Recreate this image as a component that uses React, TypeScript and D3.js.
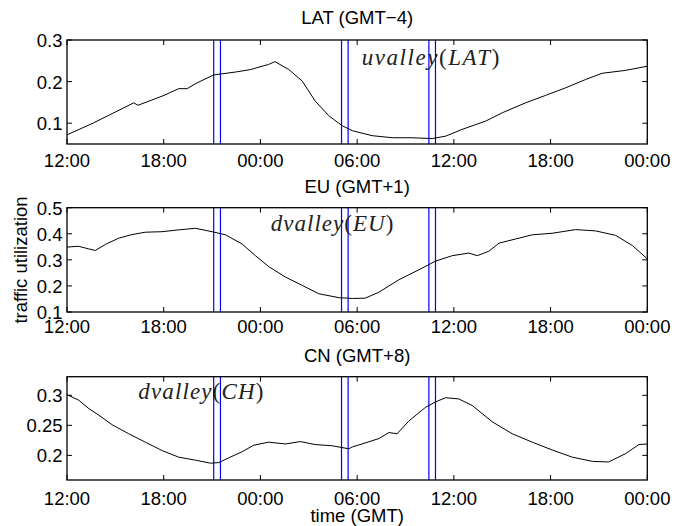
import React, { useRef, useEffect } from 'react';
import * as d3 from 'd3';

// hours after 12:00 GMT of day 1 (0..36)
const tickHours = [0, 6, 12, 18, 24, 30, 36];
const tickLabels = ['12:00', '18:00', '00:00', '06:00', '12:00', '18:00', '00:00'];
const valleyLines = [9.1, 9.52, 17.03, 17.44, 22.45, 22.86];

const latHours = [0, 1.55, 2.8, 4.14, 4.4, 5.9, 6.93, 7.45, 7.97, 9.1, 10.45, 11.4, 12.1, 12.5, 12.9, 13.76, 14.6, 15.4, 16.24, 17.07, 17.7, 18.93, 20.2, 21.4, 22.66, 23.5, 24.5, 25.97, 27.0, 28.45, 29.7, 30.93, 32.17, 33.2, 34.66, 36];
const latValues = [0.072, 0.099, 0.123, 0.149, 0.143, 0.165, 0.183, 0.183, 0.195, 0.216, 0.223, 0.229, 0.237, 0.241, 0.248, 0.229, 0.201, 0.153, 0.118, 0.094, 0.082, 0.07, 0.065, 0.065, 0.063, 0.069, 0.085, 0.105, 0.125, 0.149, 0.167, 0.185, 0.205, 0.22, 0.227, 0.237];

const euHours = [0, 0.72, 1.35, 1.76, 2.38, 3.2, 4.03, 4.86, 5.9, 6.93, 7.97, 9.0, 9.83, 10.86, 11.69, 12.52, 13.55, 14.59, 15.62, 16.87, 17.7, 18.5, 19.35, 20.6, 21.83, 22.86, 23.9, 24.93, 25.45, 26.17, 26.8, 27.83, 28.86, 30.1, 31.55, 32.8, 34.03, 35.07, 36];
const euValues = [0.349, 0.352, 0.342, 0.336, 0.359, 0.383, 0.397, 0.406, 0.408, 0.415, 0.421, 0.408, 0.396, 0.361, 0.316, 0.274, 0.234, 0.202, 0.17, 0.155, 0.152, 0.153, 0.176, 0.224, 0.262, 0.295, 0.316, 0.326, 0.316, 0.333, 0.364, 0.38, 0.396, 0.402, 0.416, 0.411, 0.394, 0.355, 0.304];

const cnHours = [0, 0.72, 1.35, 1.97, 2.8, 3.83, 4.86, 5.9, 6.93, 7.97, 8.9, 9.42, 10.04, 10.86, 11.59, 12.52, 13.55, 14.48, 15.4, 16.45, 17.48, 17.7, 18.3, 19.35, 19.97, 20.48, 21.2, 22.24, 22.86, 23.48, 24.3, 25.14, 26.38, 27.62, 28.86, 30.1, 31.35, 32.6, 33.6, 34.66, 35.48, 36];
const cnValues = [0.301, 0.292, 0.278, 0.267, 0.251, 0.236, 0.222, 0.208, 0.197, 0.192, 0.187, 0.188, 0.196, 0.206, 0.217, 0.222, 0.219, 0.223, 0.218, 0.216, 0.211, 0.214, 0.219, 0.228, 0.238, 0.236, 0.257, 0.28, 0.289, 0.296, 0.294, 0.283, 0.256, 0.236, 0.222, 0.209, 0.197, 0.19, 0.189, 0.203, 0.218, 0.219];

const panels = [
  { title: 'LAT (GMT\u22124)', hours: latHours, values: latValues, domain: [0.05, 0.3], ticks: [0.1, 0.2, 0.3],
    top: 40, bottom: 144, titleY: 24, labelGap: 22.7,
    note: { a: 'uvalley', b: 'LAT', x: 361.7, y: 65, w: 137.6 } },
  { title: 'EU (GMT+1)', hours: euHours, values: euValues, domain: [0.1, 0.5], ticks: [0.1, 0.2, 0.3, 0.4, 0.5],
    top: 207.7, bottom: 312, titleY: 192.7, labelGap: 20.5,
    note: { a: 'dvalley', b: 'EU', x: 270.7, y: 230.7, w: 122.7 } },
  { title: 'CN (GMT+8)', hours: cnHours, values: cnValues, domain: [0.159, 0.331], ticks: [0.2, 0.25, 0.3],
    top: 376.7, bottom: 480, titleY: 361.7, labelGap: 24.5,
    note: { a: 'dvalley', b: 'CH', x: 138.3, y: 398.7, w: 125 } },
];

const W = 687;
const H = 526;
const left = 67;
const right = 647.3;
const sans = 'Liberation Sans, Arial, Helvetica, sans-serif';
const fs = 18.5;

const App = () => {
  const svgRef = useRef<SVGSVGElement>(null);

  useEffect(() => {
    const svg = d3.select(svgRef.current);
    svg.selectAll('*').remove();

    const x = d3.scaleLinear().domain([0, 36]).range([left, right]);

    panels.forEach((p) => {
      const y = d3.scaleLinear().domain(p.domain).range([p.bottom, p.top]);
      const g = svg.append('g');

      // blue valley markers
      g.selectAll('line.valley')
        .data(valleyLines)
        .enter()
        .append('line')
        .attr('x1', (d) => x(d))
        .attr('x2', (d) => x(d))
        .attr('y1', p.top)
        .attr('y2', p.bottom)
        .attr('stroke', '#0000ff')
        .attr('stroke-width', 1.2);

      const pts = p.hours.map((h, i) => [h, p.values[i]] as [number, number]);
      const line = d3.line<[number, number]>().x((d) => x(d[0])).y((d) => y(d[1]));
      g.append('path')
        .attr('d', line(pts))
        .attr('fill', 'none')
        .attr('stroke', 'black')
        .attr('stroke-width', 1);

      // box
      g.append('rect')
        .attr('x', left)
        .attr('y', p.top)
        .attr('width', right - left)
        .attr('height', p.bottom - p.top)
        .attr('fill', 'none')
        .attr('stroke', 'black')
        .attr('stroke-width', 1.3);

      // x ticks (inside, bottom and top)
      tickHours.forEach((h, i) => {
        const xx = x(h);
        g.append('line').attr('x1', xx).attr('x2', xx).attr('y1', p.bottom).attr('y2', p.bottom - 5).attr('stroke', 'black');
        g.append('line').attr('x1', xx).attr('x2', xx).attr('y1', p.top).attr('y2', p.top + 5).attr('stroke', 'black');
        g.append('text')
          .attr('x', xx)
          .attr('y', p.bottom + p.labelGap)
          .attr('text-anchor', 'middle')
          .attr('font-family', sans)
          .attr('font-size', fs)
          .text(tickLabels[i]);
      });

      // y ticks (inside, left and right)
      p.ticks.forEach((t) => {
        const yy = y(t);
        g.append('line').attr('x1', left).attr('x2', left + 5).attr('y1', yy).attr('y2', yy).attr('stroke', 'black');
        g.append('line').attr('x1', right).attr('x2', right - 5).attr('y1', yy).attr('y2', yy).attr('stroke', 'black');
        g.append('text')
          .attr('x', 62.5)
          .attr('y', yy + 7)
          .attr('text-anchor', 'end')
          .attr('font-family', sans)
          .attr('font-size', fs)
          .text(String(t));
      });

      g.append('text')
        .attr('x', (left + right) / 2)
        .attr('y', p.titleY)
        .attr('text-anchor', 'middle')
        .attr('font-family', sans)
        .attr('font-size', fs)
        .text(p.title);

      const note = g.append('text')
        .attr('x', p.note.x)
        .attr('y', p.note.y)
        .attr('font-family', 'Liberation Serif, Times New Roman, serif')
        .attr('font-size', 23)
        .attr('fill', '#222')
        .attr('textLength', p.note.w)
        .attr('lengthAdjust', 'spacing');
      note.append('tspan').attr('font-style', 'italic').text(p.note.a);
      note.append('tspan').text('(');
      note.append('tspan').attr('font-style', 'italic').text(p.note.b);
      note.append('tspan').text(')');
    });

    svg.append('text')
      .attr('transform', 'translate(27,260) rotate(-90)')
      .attr('text-anchor', 'middle')
      .attr('font-family', sans)
      .attr('font-size', fs)
      .text('traffic utilization');

    svg.append('text')
      .attr('x', (left + right) / 2)
      .attr('y', 521.5)
      .attr('text-anchor', 'middle')
      .attr('font-family', sans)
      .attr('font-size', fs)
      .text('time (GMT)');
  }, []);

  return (
    <svg
      ref={svgRef}
      width={W}
      height={H}
      style={{ position: 'absolute', left: 0, top: 0, background: 'white' }}
    />
  );
};

export default App;
